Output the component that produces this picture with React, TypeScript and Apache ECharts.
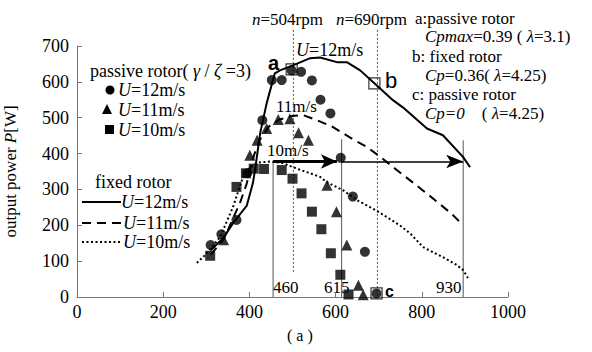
import React, { useEffect, useRef } from "react";
import * as echarts from "echarts";

// ---- data (rotational speed n [rpm], output power P [W]) ----
const xTicks = [0, 200, 400, 600, 800, 1000];
const yTicks = [0, 100, 200, 300, 400, 500, 600, 700];

// fixed rotor curves
const fixed12: [number, number][] = [
  [310, 130], [340, 165], [362, 206], [394, 255], [408, 317], [413, 354], [425, 457],
  [440, 540], [459, 624], [471, 632], [501, 646], [541, 666], [564, 668], [603, 655],
  [626, 655], [657, 632], [690, 596], [733, 549], [756, 529], [812, 470], [849, 451],
  [896, 390], [912, 362],
];
const fixed11: [number, number][] = [
  [310, 118], [340, 160], [378, 262], [394, 317], [401, 354], [412, 400], [425, 440],
  [445, 475], [470, 495], [500, 505], [525, 507], [557, 493], [594, 474], [640, 440],
  [672, 419], [710, 385], [742, 354], [784, 315], [831, 270], [870, 231], [896, 200],
];
const fixed10: [number, number][] = [
  [278, 95], [300, 120], [332, 167], [362, 251], [385, 334], [401, 362], [420, 375],
  [450, 378], [478, 373], [517, 355], [541, 345], [564, 335], [580, 320], [617, 298],
  [650, 270], [696, 240], [749, 200], [775, 175], [803, 139], [849, 111], [880, 90],
  [896, 75], [907, 53],
];

// passive rotor measurements
const passive12: [number, number][] = [
  [310, 145], [335, 175], [370, 215], [395, 345], [430, 493], [452, 605], [475, 605],
  [498, 632], [520, 628], [545, 604], [565, 550], [588, 512], [612, 388], [640, 280],
  [668, 126], [695, 10],
];
const passive11: [number, number][] = [
  [340, 160], [401, 395], [418, 437], [440, 470], [467, 495], [494, 497], [514, 458],
  [537, 437], [580, 312], [602, 238], [626, 145], [653, 33], [664, 6],
];
const passive10: [number, number][] = [
  [309, 115], [370, 307], [392, 345], [410, 358], [434, 357], [475, 354], [500, 330],
  [521, 289], [545, 238], [567, 189], [589, 122], [611, 62], [630, 7],
];

// marked operating points a, b, c
const markedNames = ["a", "b", "c"];
const markedPoints: [number, number][] = [[498, 635], [690, 596], [695, 10]];

// rpm reference lines (n=504, n=690): x, top, bottom
const rpmLines: [number, number, number][] = [[502, 745, 70], [697, 745, 0]];
// speed marker lines labelled 460, 615, 930: x, top
const speedLabels = ["460", "615", "930"];
const speedLines: [number, number][] = [[455, 378], [614, 440], [896, 437]];
// arrows along P = 378 W
const arrowThick: [number, number][] = [[455, 378], [603, 378]];
const arrowThin: [number, number][] = [[614, 378], [896, 378]];

const SERIF = "Liberation Serif";
const SANS = "Liberation Sans";

function txt(x: number, y: number, text: string, size = 17, extra: any = {}) {
  return {
    type: "text",
    x,
    y,
    silent: true,
    style: {
      text,
      fill: "#000",
      fontFamily: SERIF,
      fontSize: size,
      align: "left",
      verticalAlign: "middle",
      textAlign: "left",
      textVerticalAlign: "middle",
      rich: {
        i: { fontStyle: "italic", fontSize: size, fontFamily: SERIF },
        s: { fontSize: size, fontFamily: SERIF },
      },
      ...extra,
    },
  };
}

export default function App() {
  const ref = useRef<HTMLDivElement>(null);
  useEffect(() => {
    if (!ref.current) return;
    const chart = echarts.init(ref.current, undefined, { renderer: "svg" });

    const vLineSeries = [
      ...rpmLines.map(([x, top, bottom]) => ({
        type: "line",
        data: [[x, top], [x, bottom]],
        symbol: "none",
        clip: false,
        silent: true,
        lineStyle: { color: "#555", width: 1, type: [2, 2] },
        z: 1,
      })),
      ...speedLines.map(([x, top]) => ({
        type: "line",
        data: [[x, top], [x, 0]],
        symbol: "none",
        clip: false,
        silent: true,
        lineStyle: { color: "#555", width: 1 },
        z: 1,
      })),
    ];

    const option: any = {
      animation: false,
      backgroundColor: "#fff",
      textStyle: { fontFamily: SERIF },
      grid: {
        left: 77,
        top: 46,
        right: 84,
        bottom: 55,
        containLabel: false,
        outerBoundsMode: "none",
      },
      xAxis: {
        type: "value",
        min: xTicks[0],
        max: xTicks[xTicks.length - 1],
        interval: 200,
        axisLine: { show: true, lineStyle: { color: "#777", width: 1 } },
        axisTick: { show: true, inside: true, length: 5, lineStyle: { color: "#777" } },
        splitLine: { show: false },
        axisLabel: {
          color: "#000",
          fontFamily: SERIF,
          fontSize: 18,
          margin: 6,
          formatter: (v: number) => String(v),
        },
      },
      yAxis: {
        type: "value",
        min: yTicks[0],
        max: yTicks[yTicks.length - 1],
        interval: 100,
        name: "output power {i|P}[W]",
        nameLocation: "middle",
        nameGap: 58,
        nameRotate: 90,
        nameTextStyle: {
          color: "#000",
          fontFamily: SERIF,
          fontSize: 17,
          rich: { i: { fontStyle: "italic", fontFamily: SERIF, fontSize: 17 } },
        },
        axisLine: { show: true, lineStyle: { color: "#777", width: 1 } },
        axisTick: { show: true, inside: true, length: 5, lineStyle: { color: "#777" } },
        splitLine: { show: false },
        axisLabel: {
          color: "#000",
          fontFamily: SERIF,
          fontSize: 18,
          margin: 8,
          formatter: (v: number) => String(v),
        },
      },
      series: [
        ...vLineSeries,
        {
          type: "line",
          data: [],
          silent: true,
          markLine: {
            silent: true,
            symbol: ["none", "arrow"],
            symbolSize: [11, 16],
            label: { show: false },
            lineStyle: { color: "#000", width: 3, type: "solid" },
            data: [[{ coord: arrowThick[0] }, { coord: arrowThick[1] }]],
          },
        },
        {
          type: "line",
          data: [],
          silent: true,
          markLine: {
            silent: true,
            symbol: ["none", "arrow"],
            symbolSize: [10, 17],
            label: { show: false },
            lineStyle: { color: "#000", width: 1.5, type: "solid" },
            data: [[{ coord: arrowThin[0] }, { coord: arrowThin[1] }]],
          },
        },
        {
          type: "line",
          data: fixed12,
          symbol: "none",
          clip: false,
          lineStyle: { color: "#000", width: 2 },
          z: 3,
        },
        {
          type: "line",
          data: fixed11,
          symbol: "none",
          clip: false,
          lineStyle: { color: "#000", width: 2, type: [9, 6] },
          z: 3,
        },
        {
          type: "line",
          data: fixed10,
          symbol: "none",
          clip: false,
          lineStyle: { color: "#000", width: 2, type: [2, 2.5] },
          z: 3,
        },
        {
          type: "scatter",
          data: passive12,
          symbol: "circle",
          symbolSize: 10,
          itemStyle: { color: "#000" },
          z: 4,
        },
        {
          type: "scatter",
          data: passive11,
          symbol: "triangle",
          symbolSize: 11,
          itemStyle: { color: "#000" },
          z: 4,
        },
        {
          type: "scatter",
          data: passive10,
          symbol: "rect",
          symbolSize: 10,
          itemStyle: { color: "#000" },
          z: 4,
        },
        {
          type: "scatter",
          data: markedPoints.map((p, i) => ({ name: markedNames[i], value: p })),
          symbol: "rect",
          symbolSize: 11,
          itemStyle: { color: "rgba(255,255,255,0)", borderColor: "#000", borderWidth: 1.2 },
          z: 5,
        },
      ],
      graphic: [
        // top rpm labels
        txt(252, 19, "{i|n}{s|=504rpm}"),
        txt(336, 19, "{i|n}{s|=690rpm}"),
        // right annotations
        txt(415, 18, "a:passive rotor", 17),
        txt(425, 36, "{i|Cpmax}{s|=0.39 ( }{i|λ}{s|=3.1)}", 17),
        txt(412, 56, "b: fixed rotor", 17),
        txt(425, 75, "{i|Cp}{s|=0.36( }{i|λ}{s|=4.25)}", 17),
        txt(412, 94, "c: passive rotor", 17),
        txt(425, 113, "{i|Cp=0}{s|    ( }{i|λ}{s|=4.25)}", 17),
        // in-plot labels
        txt(296, 50, "{i|U}{s|=12m/s}", 18),
        txt(276, 106, "11m/s"),
        txt(267, 150, "10m/s"),
        txt(268, 63, "a", 20, { fontFamily: SANS, fontWeight: "bold" }),
        txt(385, 80, "b", 22, { fontFamily: SANS }),
        txt(385, 291, "c", 16, { fontFamily: SANS, fontWeight: "bold" }),
        txt(273, 287, speedLabels[0]),
        txt(324, 287, speedLabels[1]),
        txt(436, 287, speedLabels[2]),
        txt(287, 335, "( a )", 16),
        // legend: passive rotor
        txt(90, 71, "{s|passive rotor( }{i|γ}{s| / }{i|ζ}{s| =3)}", 18),
        { type: "circle", shape: { cx: 110, cy: 90, r: 4.5 }, style: { fill: "#000" }, silent: true },
        txt(118, 90, "{i|U}{s|=12m/s}", 18),
        {
          type: "polygon",
          shape: { points: [[107, 104], [102, 114], [112, 114]] },
          style: { fill: "#000" },
          silent: true,
        },
        txt(118, 110, "{i|U}{s|=11m/s}", 18),
        { type: "rect", shape: { x: 105, y: 125, width: 9, height: 9 }, style: { fill: "#000" }, silent: true },
        txt(118, 130, "{i|U}{s|=10m/s}", 18),
        // legend: fixed rotor
        txt(95, 182, "fixed rotor", 18),
        {
          type: "line",
          shape: { x1: 82, y1: 202, x2: 121, y2: 202 },
          style: { stroke: "#000", lineWidth: 2 },
          silent: true,
        },
        txt(121, 202, "{i|U}{s|=12m/s}", 18),
        {
          type: "line",
          shape: { x1: 82, y1: 223, x2: 122, y2: 223 },
          style: { stroke: "#000", lineWidth: 2, lineDash: [9, 6] },
          silent: true,
        },
        txt(123, 223, "{i|U}{s|=11m/s}", 18),
        {
          type: "line",
          shape: { x1: 82, y1: 242, x2: 122, y2: 242 },
          style: { stroke: "#000", lineWidth: 2, lineDash: [2, 2.5] },
          silent: true,
        },
        txt(123, 242, "{i|U}{s|=10m/s}", 18),
      ],
    };

    chart.setOption(option);
    return () => chart.dispose();
  }, []);

  return (
    <div
      ref={ref}
      style={{ position: "absolute", left: 0, top: 0, width: 592, height: 352 }}
    />
  );
}
